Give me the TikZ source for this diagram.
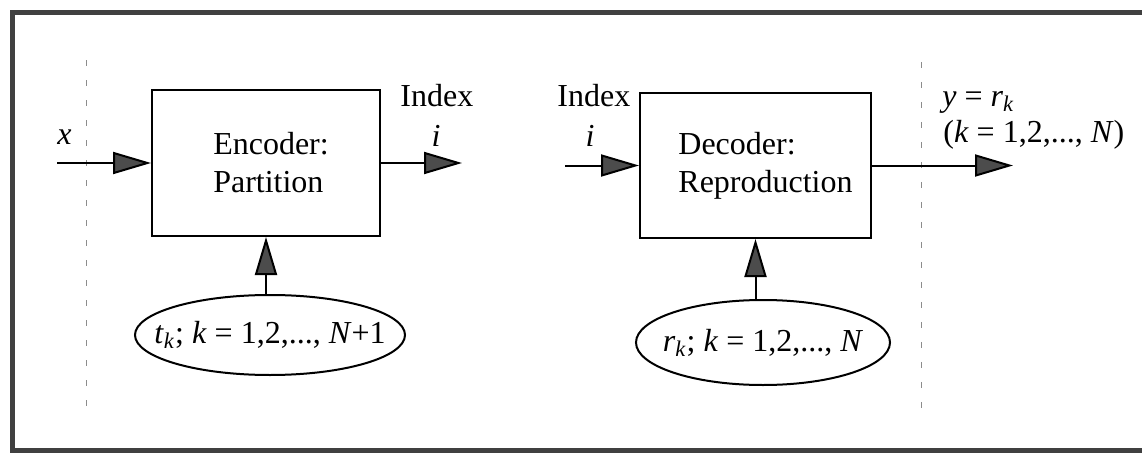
\documentclass[tikz,border=0pt]{standalone}
\usepackage{fontspec}
\setmainfont{Liberation Serif}
\usetikzlibrary{arrows.meta,positioning,shapes.geometric}
\newcommand{\vv}[1]{\textit{#1}}

\begin{document}
\begin{tikzpicture}[x=0.5pt,y=-0.5pt,>=Latex, every node/.style={font=\rmfamily\fontsize{16}{19}\selectfont}]
\tikzstyle{blk}=[draw, line width=1pt, inner sep=0pt]
\tikzstyle{btxt}=[align=left, inner sep=0pt]
\tikzstyle{par}=[draw, ellipse, line width=1pt, inner sep=0pt]
\tikzstyle{arr}=[-{Triangle[length=19pt,width=11pt,fill=black!70]}, line width=1pt]
\tikzstyle{lbl}=[inner sep=0pt, anchor=base west]
\tikzstyle{sep}=[draw=black!45, line width=0.5pt, dash pattern=on 3pt off 7pt]
\useasboundingbox (0,0) rectangle (1142,455);
% frame (open on the right)
\draw[line width=2.5pt, black!75] (1142,12) -- (12,12) -- (12,450) -- (1142,450);
% system boundary
\draw[sep] (86,60) -- (86,410);
\draw[sep] (921,62) -- (921,415);
% blocks
\node[blk, minimum width=114pt, minimum height=73pt] (enc) at (266,163) {};
\node[btxt] (enctxt) at ([xshift=2.5pt]enc.center) {Encoder:\\Partition};
\node[blk, minimum width=115.5pt, minimum height=72.5pt] (dec) at (755.5,165.5) {};
\node[btxt] (dectxt) at ([xshift=5pt]dec.center) {Decoder:\\Reproduction};
% parameter sets
\node[par, minimum width=135pt, minimum height=40pt] (tk) at (270,335) {};
\node (tktxt) at (tk.center) {\vv{t}\textsubscript{\vv{k}}; \vv{k} = 1,2,..., \vv{N}+1};
\node[par, minimum width=127pt, minimum height=42.5pt] (rk) at (763,342.5) {};
\node (rktxt) at (rk.center) {\vv{r}\textsubscript{\vv{k}}; \vv{k} = 1,2,..., \vv{N}};
% ends of the signal lines
\coordinate (xin) at (57,163);
\coordinate (iout) at (462,163);
\coordinate (iin) at (565,165.5);
\coordinate (yout) at (1013,165.5);
\draw[arr] (xin) -- (enc.west);
\draw[arr] (enc.east) -- (iout);
\draw[arr] (iin) -- (dec.west);
\draw[arr] (dec.east) -- (yout);
\draw[arr] (enc.south |- tk.north) -- (enc.south);
\draw[arr] (dec.south |- rk.north) -- (dec.south);
% labels
\node[lbl] (xlab) at (57,144) {\vv{x}};
\node[lbl] (idx1) at (400,106) {Index};
\node[lbl, anchor=base] (i1) at (436,146) {\vv{i}};
\node[lbl] (idx2) at (557,106) {Index};
\node[lbl, anchor=base] (i2) at (590,146) {\vv{i}};
\node[lbl] (ylab) at (942,106) {\vv{y} = \vv{r}\textsubscript{\vv{k}}};
\node[lbl] (krange) at (943,142) {(\vv{k} = 1,2,..., \vv{N})};
\end{tikzpicture}
\end{document}
